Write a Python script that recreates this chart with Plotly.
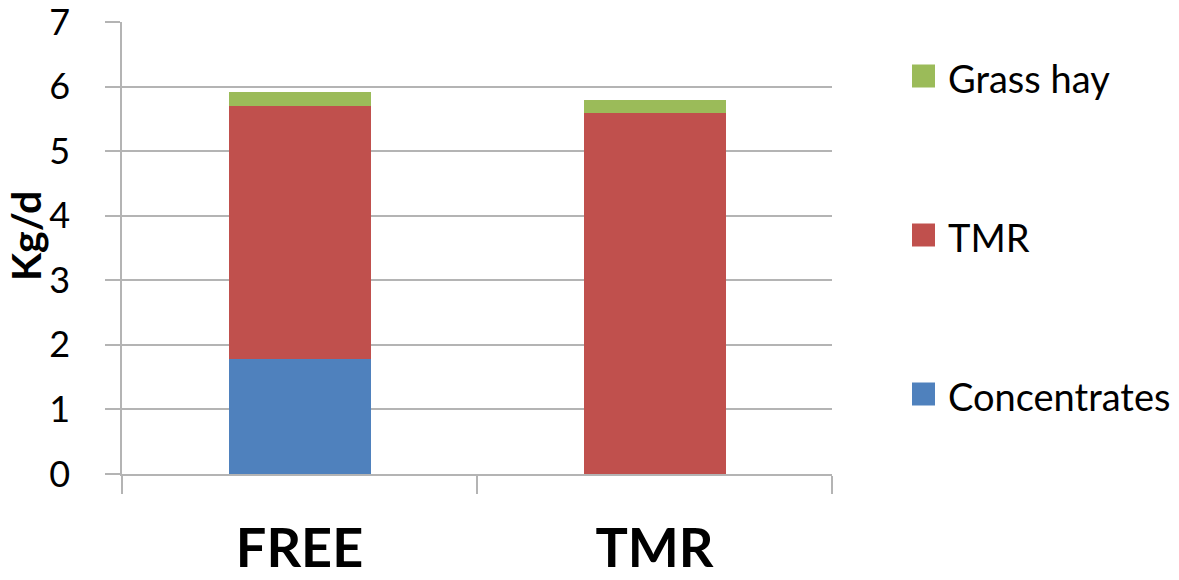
import plotly.graph_objects as go

# Daily intake by feeding system (kg/d), stacked by feed component
groups = ["FREE", "TMR"]
concentrates = [1.78, 0.0]
tmr = [3.92, 5.59]
grass_hay = [0.21, 0.20]

series_names = ["Concentrates", "TMR", "Grass hay"]
series_values = [concentrates, tmr, grass_hay]
series_colors = ["#4F81BD", "#C0504D", "#9BBB59"]

y_ticks = [0, 1, 2, 3, 4, 5, 6, 7]
y_title = "Kg/d"

W, H = 1179, 580
ML, MR, MT, MB = 122, 347, 22, 106
PW, PH = W - ML - MR, H - MT - MB

fig = go.Figure()
for name, vals, col in zip(series_names, series_values, series_colors):
    fig.add_trace(go.Bar(x=groups, y=vals, name=name, marker_color=col,
                         marker_line_width=0, showlegend=False))

grid = "#B4B4B4"
fig.update_layout(
    width=W, height=H,
    margin=dict(l=ML, r=MR, t=MT, b=MB, autoexpand=False),
    barmode="stack", bargap=0.6,
    plot_bgcolor="white", paper_bgcolor="white",
    font=dict(family="Lato", color="black"),
    xaxis=dict(type="category", tickson="boundaries", ticks="outside", ticklen=18,
               tickcolor=grid, tickwidth=1.5, showline=True, linecolor=grid, linewidth=1.5,
               tickfont=dict(size=54, family="Lato", weight="bold"),
               ticklabelstandoff=26, showgrid=False),
    yaxis=dict(range=[0, 7.002], tickvals=y_ticks, ticks="outside", ticklen=15,
               tickcolor=grid, tickwidth=1.5, showline=True, linecolor=grid, linewidth=1.5,
               showgrid=True, gridcolor=grid, gridwidth=1.5, zeroline=False,
               tickfont=dict(size=36), ticklabelstandoff=28, ticklabeloverflow="allow"),
)

# Vertical axis title, rotated, left of the tick labels
fig.add_annotation(xref="paper", yref="paper", x=(26 - ML) / PW, y=(MT + PH - 236) / PH,
                   text=f"<b>{y_title}</b>", textangle=-90, showarrow=False,
                   xanchor="center", yanchor="middle", font=dict(size=41))

# Legend drawn as swatches with labels, top item last in stack order
legend_rows_px = [394, 235, 76]
for name, col, cy in zip(series_names, series_colors, legend_rows_px):
    x0 = (912 - ML) / PW
    x1 = (935 - ML) / PW
    y0 = (MT + PH - (cy + 11.5)) / PH
    y1 = (MT + PH - (cy - 11.5)) / PH
    fig.add_shape(type="rect", xref="paper", yref="paper", x0=x0, x1=x1, y0=y0, y1=y1,
                  fillcolor=col, line=dict(width=0))
    fig.add_annotation(xref="paper", yref="paper", x=(946 - ML) / PW,
                       y=(MT + PH - (cy + 2)) / PH, text=name, showarrow=False,
                       xanchor="left", yanchor="middle", font=dict(size=38))

fig.write_html("out.html")
